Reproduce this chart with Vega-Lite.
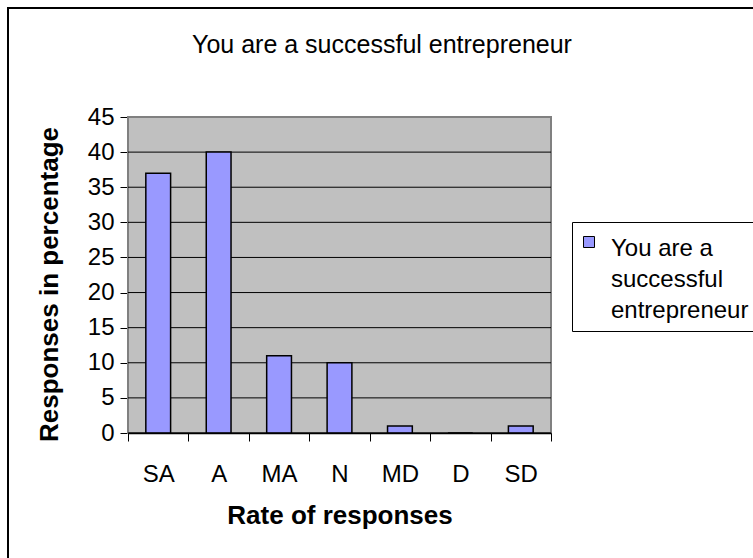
{
  "$schema": "https://vega.github.io/schema/vega-lite/v6.json",
  "autosize": {"type": "none"},
  "padding": {"left": 8, "top": 8, "right": -15, "bottom": -15},
  "width": 760,
  "height": 565,
  "background": "white",
  "config": {
    "font": "Arial",
    "view": {"stroke": "black", "strokeWidth": 2, "fill": "white"},
    "axis": {"labelFont": "Arial", "titleFont": "Arial", "labelColor": "black", "titleColor": "black", "tickColor": "black", "domainColor": "black"}
  },
  "title": {
    "text": "You are a successful entrepreneur",
    "font": "Arial",
    "fontSize": 25,
    "fontWeight": "normal",
    "color": "black",
    "anchor": "middle",
    "frame": "group",
    "offset": -45,
    "baseline": "alphabetic",
    "dx": -6,
    "dy": 25
  },
  "datasets": {
    "responses": [
      {"rate": "SA", "percent": 37, "series": "You are a successful entrepreneur"},
      {"rate": "A", "percent": 40, "series": "You are a successful entrepreneur"},
      {"rate": "MA", "percent": 11, "series": "You are a successful entrepreneur"},
      {"rate": "N", "percent": 10, "series": "You are a successful entrepreneur"},
      {"rate": "MD", "percent": 1, "series": "You are a successful entrepreneur"},
      {"rate": "D", "percent": 0, "series": "You are a successful entrepreneur"},
      {"rate": "SD", "percent": 1, "series": "You are a successful entrepreneur"}
    ],
    "plotArea": [{"from": "SA", "to": "SD", "bottom": 0, "top": 45}],
    "gridLines": [
      {"level": 0}, {"level": 5}, {"level": 10}, {"level": 15}, {"level": 20},
      {"level": 25}, {"level": 30}, {"level": 35}, {"level": 40}
    ]
  },
  "layer": [
    {
      "data": {"name": "plotArea"},
      "mark": {"type": "rect", "fill": "#C0C0C0", "stroke": "#808080", "strokeWidth": 2},
      "encoding": {
        "x": {"field": "from", "type": "nominal", "bandPosition": 0,
              "scale": {"domain": ["SA", "A", "MA", "N", "MD", "D", "SD"], "range": [120, 543], "paddingInner": 0, "paddingOuter": 0}},
        "x2": {"field": "to", "bandPosition": 1},
        "y": {"field": "bottom", "type": "quantitative",
              "scale": {"domain": [0, 45], "range": [425, 109], "nice": false}},
        "y2": {"field": "top"}
      }
    },
    {
      "data": {"name": "gridLines"},
      "mark": {"type": "rule", "color": "black", "strokeWidth": 1},
      "encoding": {
        "y": {"field": "level", "type": "quantitative",
              "scale": {"domain": [0, 45], "range": [425, 109], "nice": false}},
        "x": {"datum": "SA", "type": "nominal", "bandPosition": 0,
              "scale": {"domain": ["SA", "A", "MA", "N", "MD", "D", "SD"], "range": [120, 543], "paddingInner": 0, "paddingOuter": 0}},
        "x2": {"datum": "SD", "bandPosition": 1}
      }
    },
    {
      "data": {"name": "responses"},
      "mark": {"type": "bar", "stroke": "black", "strokeWidth": 1.5, "width": {"band": 0.41}},
      "encoding": {
        "x": {
          "field": "rate", "type": "nominal", "title": "Rate of responses",
          "scale": {"domain": ["SA", "A", "MA", "N", "MD", "D", "SD"], "range": [120, 543], "paddingInner": 0, "paddingOuter": 0},
          "axis": {
            "orient": "bottom", "offset": -140, "tickBand": "extent", "tickSize": 8, "tickWidth": 1,
            "domain": true, "domainWidth": 1.5, "grid": false,
            "labelFontSize": 24, "labelAngle": 0, "labelAlign": "center", "labelPadding": 40, "labelBaseline": "alphabetic",
            "titleFontSize": 26, "titleFontWeight": "bold", "titleX": 331.5, "titleY": 90, "titleBaseline": "alphabetic", "titleAlign": "center"
          }
        },
        "y": {
          "field": "percent", "type": "quantitative", "title": "Responses in percentage",
          "scale": {"domain": [0, 45], "range": [425, 109], "nice": false},
          "axis": {
            "orient": "left", "offset": -120, "values": [0, 5, 10, 15, 20, 25, 30, 35, 40, 45],
            "tickSize": 8, "tickWidth": 1, "domain": false, "grid": false,
            "labelFontSize": 24, "labelPadding": 6,
            "titleFontSize": 26, "titleFontWeight": "bold", "titleAngle": -90, "titleX": -71, "titleY": 276,
            "titleBaseline": "alphabetic", "titleAlign": "center"
          }
        },
        "color": {
          "field": "series", "type": "nominal",
          "scale": {"range": ["#9999FF"]},
          "legend": {
            "orient": "none", "legendX": 564, "legendY": 214, "title": null,
            "strokeColor": "black", "fillColor": "white", "padding": 8,
            "symbolType": "square", "symbolSize": 121, "symbolStrokeColor": "black", "symbolStrokeWidth": 1,
            "symbolFillColor": "#9999FF", "symbolOffset": -3,
            "labelFont": "Arial", "labelFontSize": 24, "labelColor": "black", "labelLimit": 400, "labelOffset": 10,
            "labelBaseline": "alphabetic",
            "labelExpr": "['You are a', 'successful', 'entrepreneur']",
            "encode": {"labels": {"update": {"lineHeight": {"value": 31}, "dy": {"value": 14}}}}
          }
        }
      }
    }
  ]
}
